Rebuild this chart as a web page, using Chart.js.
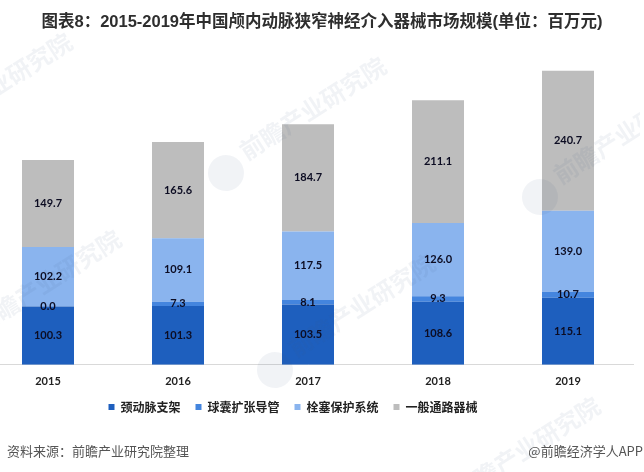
<!DOCTYPE html>
<html><head><meta charset="utf-8">
<style>
html,body{margin:0;padding:0;background:#fff;overflow:hidden;width:644px;height:472px}
#wrap{position:absolute;left:-64px;top:0;width:704px;height:472px}
.t{position:absolute;white-space:nowrap}
#title{left:0;width:644px;text-align:center;top:8px;font:bold 16.5px 'Liberation Sans','Noto Sans CJK SC';color:#2e2e2e}
</style>
<script src="https://cdn.jsdelivr.net/npm/chart.js@4"></script>
</head><body>
<div id="wrap"><canvas id="c"></canvas></div>
<div class="t" id="title"></div>
<div class="t" id="srcL" style="left:7px;top:441px;font:13px 'Noto Sans CJK SC';color:#555"></div>
<div class="t" id="srcR" style="right:1px;top:441px;font:13px 'Noto Sans CJK SC';color:#555"></div>
<script>
const categories=['2015','2016','2017','2018','2019'];
const carotidStent=[100.3,101.3,103.5,108.6,115.1];
const balloonCatheter=[0.0,7.3,8.1,9.3,10.7];
const embolicProtection=[102.2,109.1,117.5,126.0,139.0];
const accessDevices=[149.7,165.6,184.7,211.1,240.7];
const seriesNames=['颈动脉支架','球囊扩张导管','栓塞保护系统','一般通路器械'];
const seriesColors=['#1E5FBE','#4485DE','#8AB4EE','#BDBDBD'];
const titleText='图表8：2015-2019年中国颅内动脉狭窄神经介入器械市场规模(单位：百万元)';
const sourceText='资料来源：前瞻产业研究院整理';
const creditText='@前瞻经济学人APP';
const watermarkText='前瞻产业研究院';
const watermarks=[[226,173],[540,197],[-88,149],[275,370],[-39,346],[440,513]];
document.getElementById('title').textContent=titleText;
document.getElementById('srcL').textContent=sourceText;
document.getElementById('srcR').textContent=creditText;

const marks={id:'marks',
 afterLayout(ch){
  const l=ch.legend;
  l.top-=4;l.bottom-=4;l.left-=15;l.right-=15;
 },
 afterDatasetsDraw(ch){
  const c=ch.ctx;
  c.save();
  c.font="bold 24px 'Noto Sans CJK SC'";
  c.textBaseline='middle';c.textAlign='left';
  c.fillStyle='rgba(70,95,140,0.075)';
  watermarks.forEach(([x,y])=>{
    c.save();c.translate(x+64,y);c.rotate(-32.5*Math.PI/180);
    c.beginPath();c.arc(0,0,18,0,Math.PI*2);c.fill();
    c.fillText(watermarkText,24,-8);
    c.restore();
  });
  c.restore();
  c.save();
  c.textAlign='center';c.textBaseline='middle';
  c.font="bold 11px Lato,'Open Sans'";
  c.fillStyle='#0c0c22';
  ch.data.datasets.forEach((d,i)=>{
    ch.getDatasetMeta(i).data.forEach((el,j)=>{
      c.fillText(d.data[j].toFixed(1),el.x,(el.y+el.base)/2);
    });
  });
  c.restore();
 }};
new Chart(document.getElementById('c'),{
 type:'bar',
 data:{labels:categories,datasets:[carotidStent,balloonCatheter,embolicProtection,accessDevices].map((v,i)=>({
   label:seriesNames[i],data:v,backgroundColor:seriesColors[i],borderWidth:0,
   categoryPercentage:1,barPercentage:0.4}))},
 plugins:[marks],
 options:{
  responsive:true,maintainAspectRatio:false,animation:false,
  layout:{padding:{left:47,right:7,top:45,bottom:45}},
  plugins:{
   tooltip:{enabled:false},
   title:{display:false},
   legend:{position:'bottom',labels:{boxWidth:6,boxHeight:6,padding:15,color:'#222',
     font:{family:"'Noto Sans CJK SC'",size:12,weight:'bold'}}}
  },
  scales:{
   x:{stacked:true,grid:{display:false},border:{color:'#d9d9d9',width:1},
      ticks:{color:'#222',padding:2,font:{family:"Lato",size:11,weight:'bold'}}},
   y:{stacked:true,display:false,min:0,max:550}
  }
 }
});
</script>
</body></html>
